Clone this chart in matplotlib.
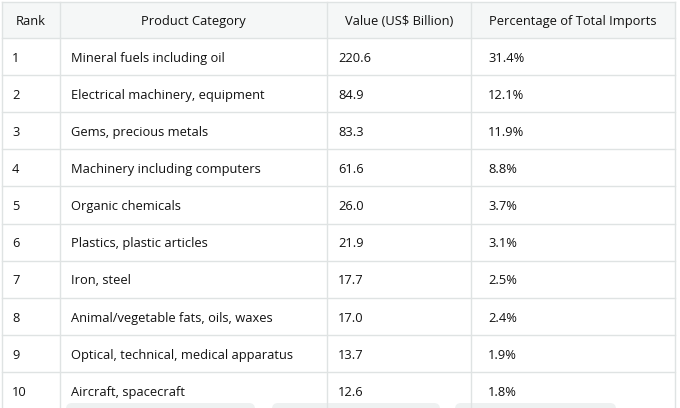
import matplotlib
matplotlib.use("Agg")
import matplotlib.pyplot as plt
from matplotlib.patches import Rectangle, FancyBboxPatch

headers = ["Rank", "Product Category", "Value (US$ Billion)", "Percentage of Total Imports"]
ranks = ["1", "2", "3", "4", "5", "6", "7", "8", "9", "10"]
categories = ["Mineral fuels including oil", "Electrical machinery, equipment",
              "Gems, precious metals", "Machinery including computers",
              "Organic chemicals", "Plastics, plastic articles", "Iron, steel",
              "Animal/vegetable fats, oils, waxes", "Optical, technical, medical apparatus",
              "Aircraft, spacecraft"]
values = ["220.6", "84.9", "83.3", "61.6", "26.0", "21.9", "17.7", "17.0", "13.7", "12.6"]
percents = ["31.4%", "12.1%", "11.9%", "8.8%", "3.7%", "3.1%", "2.5%", "2.4%", "1.9%", "1.8%"]

fig = plt.figure(figsize=(6.8, 4.08), dpi=100)
ax = fig.add_axes([0, 0, 1, 1])
ax.set_xlim(0, 680); ax.set_ylim(408, 0); ax.axis("off")

col_x = [2, 60, 327, 471, 675]
header_top, header_bot, row_h = 2, 38, 37.1
line_c = "#dfe3e3"
font = "Open Sans"
fs = 9.3
tc = "#111111"

ax.add_patch(Rectangle((col_x[0], header_top), col_x[-1] - col_x[0], header_bot - header_top,
                       facecolor="#f5f7f7", edgecolor="none"))
n = len(ranks)
bottom = header_bot + row_h * n + 5
for x in col_x:
    ax.plot([x, x], [header_top, bottom], color=line_c, lw=1)
ax.plot([col_x[0], col_x[-1]], [header_top, header_top], color=line_c, lw=1)
ax.plot([col_x[0], col_x[-1]], [header_bot, header_bot], color=line_c, lw=1)
for i in range(1, n):
    y = header_bot + row_h * i
    ax.plot([col_x[0], col_x[-1]], [y, y], color=line_c, lw=1)

for j, h in enumerate(headers):
    ax.text((col_x[j] + col_x[j + 1]) / 2, (header_top + header_bot) / 2 + 1.5, h,
            ha="center", va="center", family=font, fontsize=fs, color=tc)

cols = [ranks, categories, values, percents]
pads = [10, 11, 11, 17]
for j, col in enumerate(cols):
    for i, t in enumerate(col):
        y = header_bot + row_h * (i + 0.5) + 1.8
        ax.text(col_x[j] + pads[j], y, t, ha="left", va="center",
                family=font, fontsize=fs, color=tc)

for x0, x1 in [(66, 255), (272, 440), (455, 616)]:
    ax.add_patch(FancyBboxPatch((x0, 403), x1 - x0, 20,
                                boxstyle="round,pad=0,rounding_size=6",
                                facecolor="#eef1f1", edgecolor="none"))

fig.savefig("out.png", dpi=100)
